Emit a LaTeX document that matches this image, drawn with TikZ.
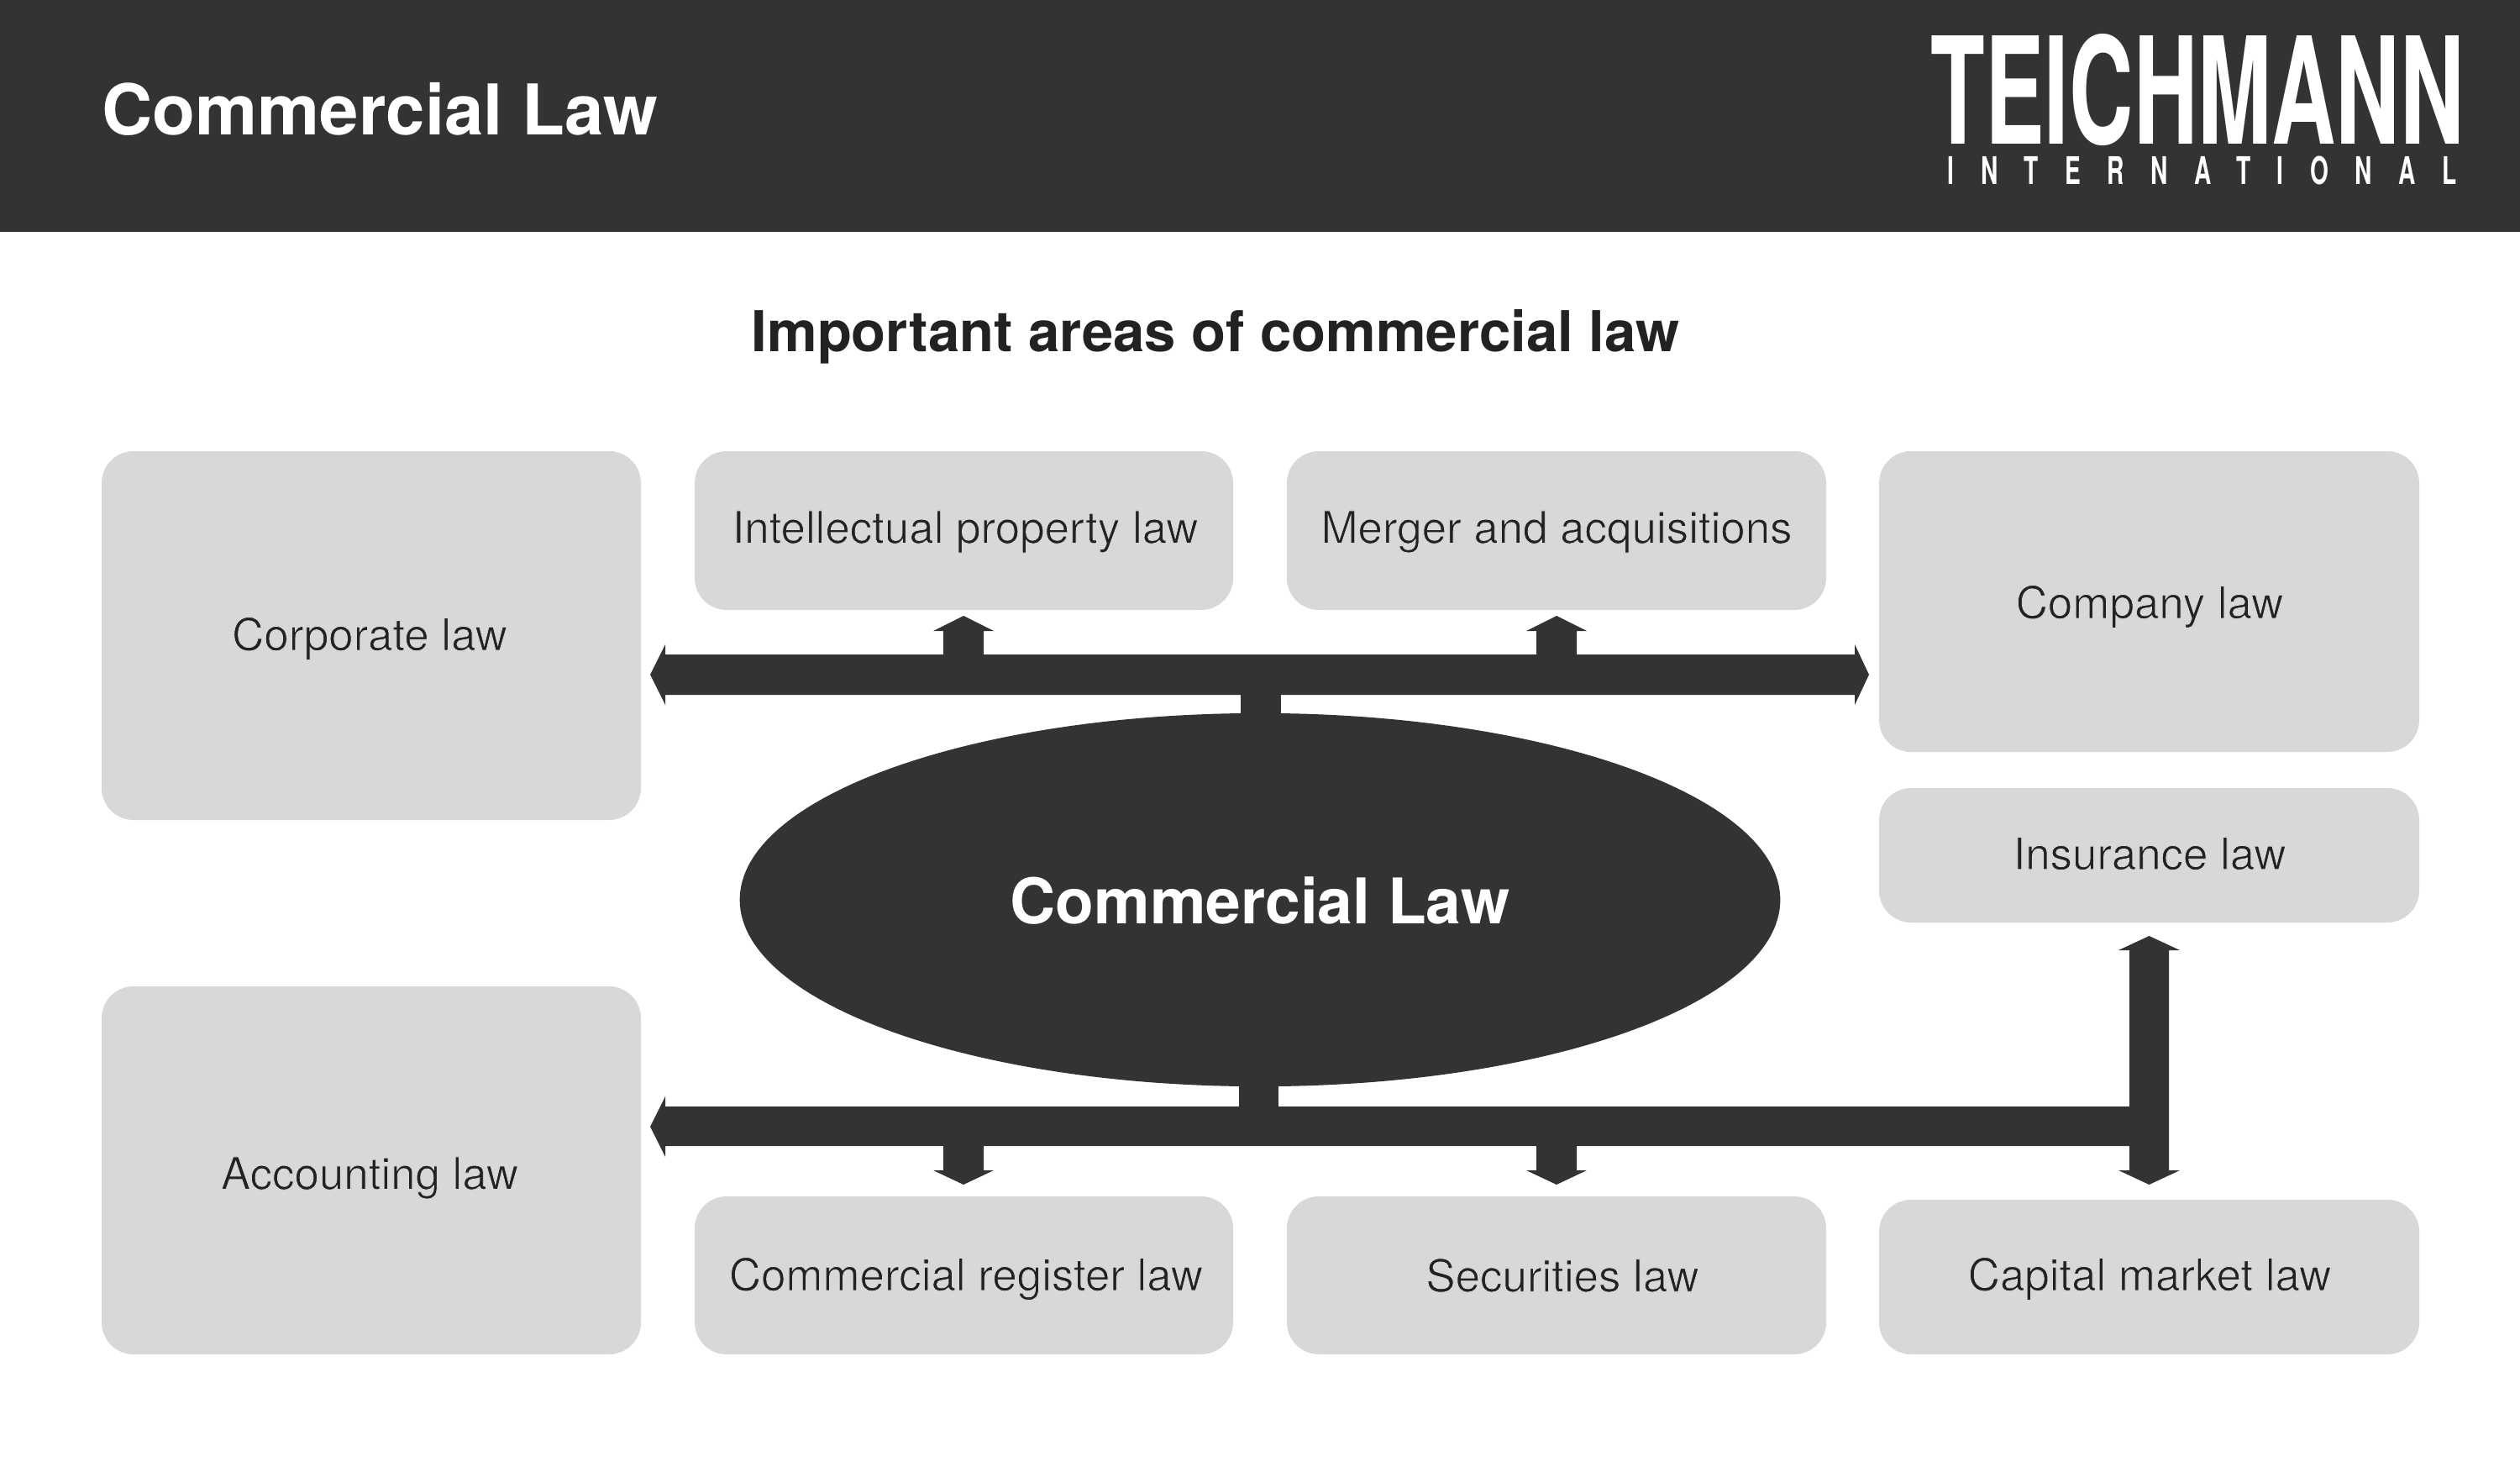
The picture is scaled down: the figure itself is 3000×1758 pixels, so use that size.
\documentclass[tikz,border=0pt]{standalone}
\usepackage{fontspec}
\usetikzlibrary{shapes.geometric}
\setmainfont{TeX Gyre Heros}
\newfontfamily\logofont[FakeStretch=0.598]{TeX Gyre Heros}
\newfontfamily\logosmall[FakeStretch=0.62,LetterSpace=69.5]{TeX Gyre Heros}
\definecolor{dark}{HTML}{333333}
\definecolor{boxg}{HTML}{D8D8D8}
\definecolor{ink}{HTML}{222222}
\newcommand{\thintext}[1]{\special{pdf:code q 2 Tr 0.847 0.847 0.847 RG 0.25 w}#1\special{pdf:code Q}}
\tikzset{x=0.01cm,y=-0.01cm,
 lawbox/.style={fill=boxg,rounded corners=0.38cm},
 lawtext/.style={text=ink,inner sep=0,font=\fontsize{15.03}{18}\selectfont},
 bar/.style={fill=dark}}
\begin{document}
\begin{tikzpicture}
\useasboundingbox (0,0) rectangle (3000,1758);
\fill[dark] (0,0) rectangle (3000,276);
\node[text=white,font=\bfseries\fontsize{23.7}{26}\selectfont,anchor=west,inner sep=0] (title) at (121,130) {Commercial Law};
\node[text=white,font=\logofont\bfseries\fontsize{50.3}{52}\selectfont,inner sep=0,anchor=base west] (logo) at (2298,172) {TEICHMANN};
\node[text=white,font=\logosmall\bfseries\fontsize{12.9}{14}\selectfont,inner sep=0,anchor=base west] (logo2) at (2318,220) {INTERNATIONAL};
\node[text=ink,font=\bfseries\fontsize{19.07}{22}\selectfont,inner sep=0] (sub) at (1447,401) {Important areas of commercial law};
\foreach \n/\a/\b/\c/\d/\t/\tx/\ty in {
 corp/121/537/763/976/Corporate law/440/760,
 ip/827/537/1468/726/Intellectual property law/1149/633,
 ma/1532/537/2174/726/Merger and acquisitions/1853/633,
 comp/2237/537/2880/895/Company law/2559/722,
 ins/2237/938/2880/1098/Insurance law/2559/1016,
 acc/121/1174/763/1612/Accounting law/440/1402,
 reg/827/1424/1468/1612/Commercial register law/1150/1522,
 sec/1532/1424/2174/1612/Securities law/1860/1518,
 cap/2237/1428/2880/1612/Capital market law/2559/1522}{
 \fill[lawbox] (\a,\b) rectangle (\c,\d);
 \node[lawtext] (\n) at (\tx,\ty) {\thintext{\t}};
}
\fill[bar] (1477,820) rectangle (1525,870);
\fill[bar] (1475,1280) rectangle (1522,1325);
\node[ellipse,fill=dark,minimum width=12.38cm,minimum height=4.44cm,inner sep=0] (hub) at (1500,1071) {};
\node[text=white,font=\bfseries\fontsize{21.3}{26}\selectfont,inner sep=0] (hubt) at (1500,1072) {Commercial Law};
% upper bar
\fill[bar] (774,803) -- (792,767) -- (792,779) -- (2208,779) -- (2208,767) -- (2225,803) -- (2208,839) -- (2208,827) -- (792,827) -- (792,839) -- cycle;
\fill[bar] (1123,780) -- (1123,751) -- (1111,751) -- (1147,733) -- (1183,751) -- (1171,751) -- (1171,780) -- cycle;
\fill[bar] (1829,780) -- (1829,751) -- (1817,751) -- (1853,733) -- (1889,751) -- (1877,751) -- (1877,780) -- cycle;
% lower bar
\fill[bar] (774,1341) -- (792,1305) -- (792,1317) -- (2540,1317) -- (2540,1364) -- (792,1364) -- (792,1377) -- cycle;
\fill[bar] (1123,1363) -- (1123,1393) -- (1111,1393) -- (1147,1410) -- (1183,1393) -- (1171,1393) -- (1171,1363) -- cycle;
\fill[bar] (1829,1363) -- (1829,1393) -- (1817,1393) -- (1853,1410) -- (1889,1393) -- (1877,1393) -- (1877,1363) -- cycle;
\fill[bar] (2535,1131) -- (2522,1131) -- (2558.5,1114) -- (2595,1131) -- (2582,1131) -- (2582,1393) -- (2595,1393) -- (2558.5,1410) -- (2522,1393) -- (2535,1393) -- cycle;
\end{tikzpicture}
\end{document}
